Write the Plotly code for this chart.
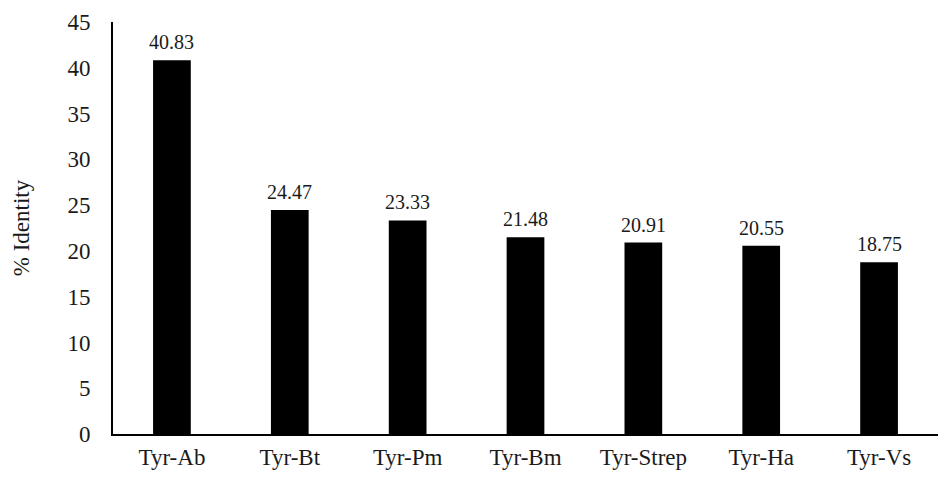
import plotly.graph_objects as go

categories = ["Tyr-Ab", "Tyr-Bt", "Tyr-Pm", "Tyr-Bm", "Tyr-Strep", "Tyr-Ha", "Tyr-Vs"]
identity = [40.83, 24.47, 23.33, 21.48, 20.91, 20.55, 18.75]
labels = ["40.83", "24.47", "23.33", "21.48", "20.91", "20.55", "18.75"]

font = "'Liberation Serif', 'Times New Roman', serif"

fig = go.Figure(go.Bar(
    x=categories, y=identity,
    marker=dict(color="black", line=dict(width=0)),
    hoverinfo="skip",
))
for c, v, t in zip(categories, identity, labels):
    fig.add_annotation(x=c, y=v, text=t, showarrow=False, yanchor="bottom",
                       yshift=5, font=dict(family=font, size=20, color="#1a1a1a"))
fig.update_layout(
    width=948, height=477,
    margin=dict(l=113, r=10, t=22, b=43, autoexpand=False),
    paper_bgcolor="white", plot_bgcolor="white",
    bargap=0.68, showlegend=False,
    font=dict(family=font, size=23, color="#1a1a1a"),
)
fig.update_xaxes(range=[-0.5, 6.5], showline=True, linecolor="black", linewidth=2,
                 ticks="", showgrid=False, tickfont=dict(size=23), automargin=False,
                 ticklabelstandoff=1)
fig.update_yaxes(range=[0, 45], dtick=5, showline=True, linecolor="black", linewidth=2,
                 ticks="", showgrid=False, zeroline=False, tickfont=dict(size=23),
                 automargin=False, ticklabelstandoff=16,
                 title=dict(text="% Identity", font=dict(size=23), standoff=31))
fig.write_html("out.html", config={"displayModeBar": False},
               post_script="document.body.style.margin='0';document.body.style.padding='0';")
